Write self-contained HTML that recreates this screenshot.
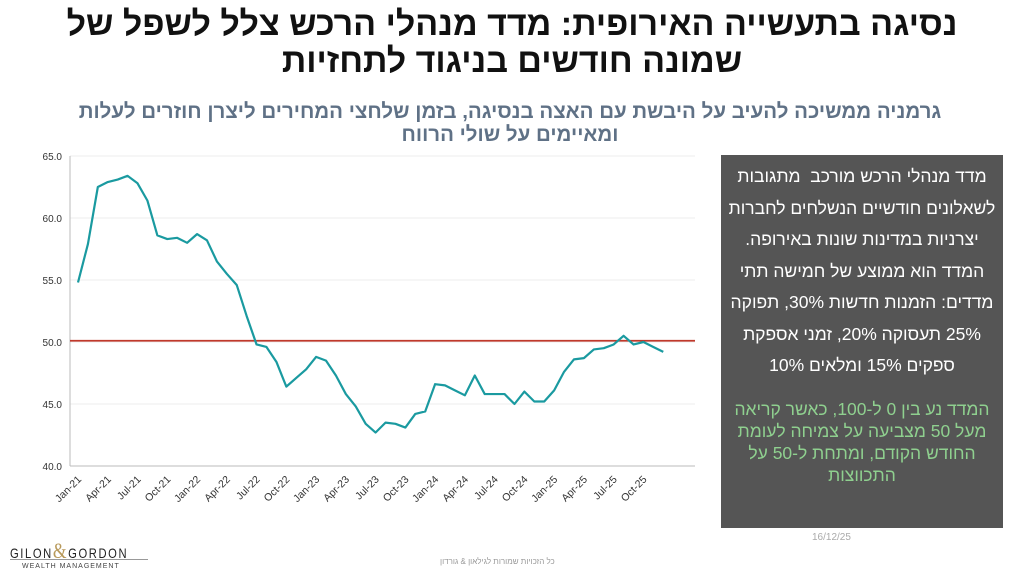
<!DOCTYPE html>
<html><head><meta charset="utf-8"><style>
body{margin:0;width:1024px;height:576px;background:#fff;overflow:hidden;position:relative;font-family:"Liberation Sans","Noto Sans CJK SC",sans-serif}
.t{position:absolute;left:0;width:1024px;text-align:center;direction:rtl;font-weight:bold;color:#111;font-size:34px;line-height:37px;top:6px}
.s{position:absolute;left:40px;width:940px;text-align:center;direction:rtl;font-weight:bold;color:#5f7186;font-size:20.5px;line-height:23px;top:100px}
.box{position:absolute;left:721px;top:155px;width:282px;height:373px;background:#555;color:#fff;direction:rtl;text-align:center;font-size:17.5px;line-height:31.5px;box-sizing:border-box;padding:6px 6px}
.g{color:#8fd08f;line-height:22px;margin-top:16px}
</style></head><body>
<div class="t">נסיגה בתעשייה האירופית: מדד מנהלי הרכש צלל לשפל של<br>שמונה חודשים בניגוד לתחזיות</div>
<div class="s">גרמניה ממשיכה להעיב על היבשת עם האצה בנסיגה, בזמן שלחצי המחירים ליצרן חוזרים לעלות<br>ומאיימים על שולי הרווח</div>
<div class="box">מדד מנהלי הרכש מורכב &nbsp;מתגובות לשאלונים חודשיים הנשלחים לחברות יצרניות במדינות שונות באירופה. המדד הוא ממוצע של חמישה תתי מדדים: הזמנות חדשות 30%, תפוקה 25% תעסוקה 20%, זמני אספקת ספקים 15% ומלאים 10%<div class="g">המדד נע בין 0 ל-100, כאשר קריאה מעל 50 מצביעה על צמיחה לעומת החודש הקודם, ומתחת ל-50 על התכווצות</div></div>
<svg id="c" width="1024" height="576" style="position:absolute;left:0;top:0"></svg>
<div style="position:absolute;left:812px;top:532px;font-size:10px;color:#aaa">16/12/25</div>
<div style="position:absolute;left:440px;top:557px;font-size:8px;color:#999;direction:rtl">כל הזכויות שמורות לגילאון &amp; גורדון</div>
<div style="position:absolute;left:10px;top:538px;font-size:14px;letter-spacing:2px;color:#222;transform:scaleX(0.8);transform-origin:left">GILON<span style="color:#b8995a;font-size:22px;font-family:'Liberation Serif',serif">&amp;</span>GORDON</div>
<div style="position:absolute;left:10px;top:559px;width:138px;border-top:1px solid #999"></div>
<div style="position:absolute;left:22px;top:563px;font-size:7px;letter-spacing:1px;color:#444">WEALTH MANAGEMENT</div>
<script>
var d=[54.8,57.9,62.5,62.9,63.1,63.4,62.8,61.4,58.6,58.3,58.4,58.0,58.7,58.2,56.5,55.5,54.6,52.1,49.8,49.6,48.4,46.4,47.1,47.8,48.8,48.5,47.3,45.8,44.8,43.4,42.7,43.5,43.4,43.1,44.2,44.4,46.6,46.5,46.1,45.7,47.3,45.8,45.8,45.8,45.0,46.0,45.2,45.2,46.1,47.6,48.6,48.7,49.4,49.5,49.8,50.5,49.8,50.0,49.6,49.2];
function Y(v){return 466-(v-40)*12.4}function X(i){return 78+i*9.92}
var s='';
for(var v=40;v<=65;v+=5){var y=Y(v);if(v>40)s+='<line x1="70" x2="695" y1="'+y+'" y2="'+y+'" stroke="#eee"/>';s+='<text x="62" y="'+(y+4)+'" font-size="10" text-anchor="end" fill="#333">'+v.toFixed(1)+'</text>';}
s+='<line x1="70" x2="70" y1="156" y2="466" stroke="#bbb"/><line x1="70" x2="695" y1="466" y2="466" stroke="#bbb"/>';
var m=['Jan','Apr','Jul','Oct'];
for(var i=0;i<60;i+=3){var x=X(i),lab=m[(i/3)%4]+'-'+(21+Math.floor(i/12));s+='<text transform="translate('+(x+4)+',480) rotate(-45)" font-size="10.5" text-anchor="end" fill="#333">'+lab+'</text>';}
s+='<line x1="70" x2="695" y1="'+Y(50.1)+'" y2="'+Y(50.1)+'" stroke="#c0392b" stroke-width="1.8"/>';
s+='<polyline fill="none" stroke="#1a9aa0" stroke-width="2.2" stroke-linejoin="round" points="'+d.map(function(v,i){return X(i)+','+Y(v)}).join(' ')+'"/>';
document.getElementById('c').innerHTML=s;
</script>
</body></html>
